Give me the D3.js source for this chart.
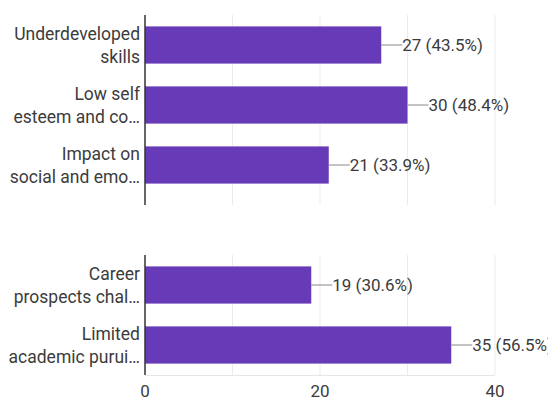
<!DOCTYPE html>
<html>
<head>
<meta charset="utf-8">
<script src="https://cdn.jsdelivr.net/npm/d3@7"></script>
<style>
  html, body { margin: 0; padding: 0; background: #fff; }
  svg { display: block; font-family: Roboto, "Noto Sans", sans-serif; }
</style>
</head>
<body>
<svg id="chart" width="548" height="400"></svg>
<script>
// Responses per option
const categories = [
  "Underdeveloped skills",
  "Low self esteem and confidence",
  "Impact on social and emotional wellbeing",
  "Career prospects challenges",
  "Limited academic puruits"
];
// Wrapped, truncated labels as displayed beside each bar
const labelLines = [
  ["Underdeveloped", "skills"],
  ["Low self", "esteem and co…"],
  ["Impact on", "social and emo…"],
  ["Career", "prospects chal…"],
  ["Limited", "academic purui…"]
];
const counts = [27, 30, 21, 19, 35];
const percents = [43.5, 48.4, 33.9, 30.6, 56.5];
const xTicks = [0, 20, 40];
const gridTicks = [10, 20, 30, 40];

const svg = d3.select("#chart");
const purple = "#673ab7";
const textColor = "#3c3c3c";

const x = d3.scaleLinear().domain([0, 40]).range([145, 495]);

// The chart is shown in two stacked sections
const panels = [
  { idx: [0, 1, 2], range: [15, 195], lineEnd: 205, border: false },
  { idx: [3, 4], range: [255, 375], lineEnd: 375, border: true }
];

panels.forEach(p => {
  const y = d3.scaleBand().domain(p.idx).range(p.range).paddingInner(0.38).paddingOuter(0.19);
  const g = svg.append("g");

  // vertical gridlines
  g.selectAll("line.grid").data(gridTicks).join("line")
    .attr("x1", d => x(d)).attr("x2", d => x(d))
    .attr("y1", p.range[0]).attr("y2", p.lineEnd)
    .attr("stroke", "#ebebeb").attr("stroke-width", 1);

  if (p.border) {
    g.append("line")
      .attr("x1", x(0)).attr("x2", x(40))
      .attr("y1", p.lineEnd + 0.5).attr("y2", p.lineEnd + 0.5)
      .attr("stroke", "#e6e6e6");
  }

  // bars
  g.selectAll("rect.bar").data(p.idx).join("rect")
    .attr("x", x(0)).attr("y", i => y(i))
    .attr("width", i => x(counts[i]) - x(0))
    .attr("height", y.bandwidth())
    .attr("fill", purple);

  // connector and value labels
  g.selectAll("line.conn").data(p.idx).join("line")
    .attr("x1", i => x(counts[i])).attr("x2", i => x(counts[i]) + 21)
    .attr("y1", i => y(i) + y.bandwidth() / 2).attr("y2", i => y(i) + y.bandwidth() / 2)
    .attr("stroke", "#888").attr("stroke-width", 1);

  g.selectAll("text.val").data(p.idx).join("text")
    .attr("x", i => x(counts[i]) + 21)
    .attr("y", i => y(i) + y.bandwidth() / 2)
    .attr("dy", "0.36em")
    .attr("font-size", 17)
    .attr("fill", textColor)
    .text(i => `${counts[i]} (${percents[i]}%)`);

  // category labels, two lines each
  const lab = g.selectAll("text.cat").data(p.idx).join("text")
    .attr("text-anchor", "end")
    .attr("font-size", 17.5)
    .attr("fill", textColor);
  lab.each(function (i) {
    const cy = y(i) + y.bandwidth() / 2;
    const t = d3.select(this);
    labelLines[i].forEach((ln, k) => {
      t.append("tspan")
        .attr("x", 140)
        .attr("y", cy + (k === 0 ? -11.5 : 11.5))
        .attr("dy", "0.36em")
        .text(ln);
    });
  });

  // y axis line
  g.append("line")
    .attr("x1", x(0)).attr("x2", x(0))
    .attr("y1", p.range[0]).attr("y2", p.lineEnd)
    .attr("stroke", "#333").attr("stroke-width", 1.5);
});

// x tick labels
svg.append("g").selectAll("text").data(xTicks).join("text")
  .attr("x", d => x(d)).attr("y", 397)
  .attr("text-anchor", "middle")
  .attr("font-size", 17)
  .attr("fill", textColor)
  .text(d => d);
</script>
</body>
</html>
